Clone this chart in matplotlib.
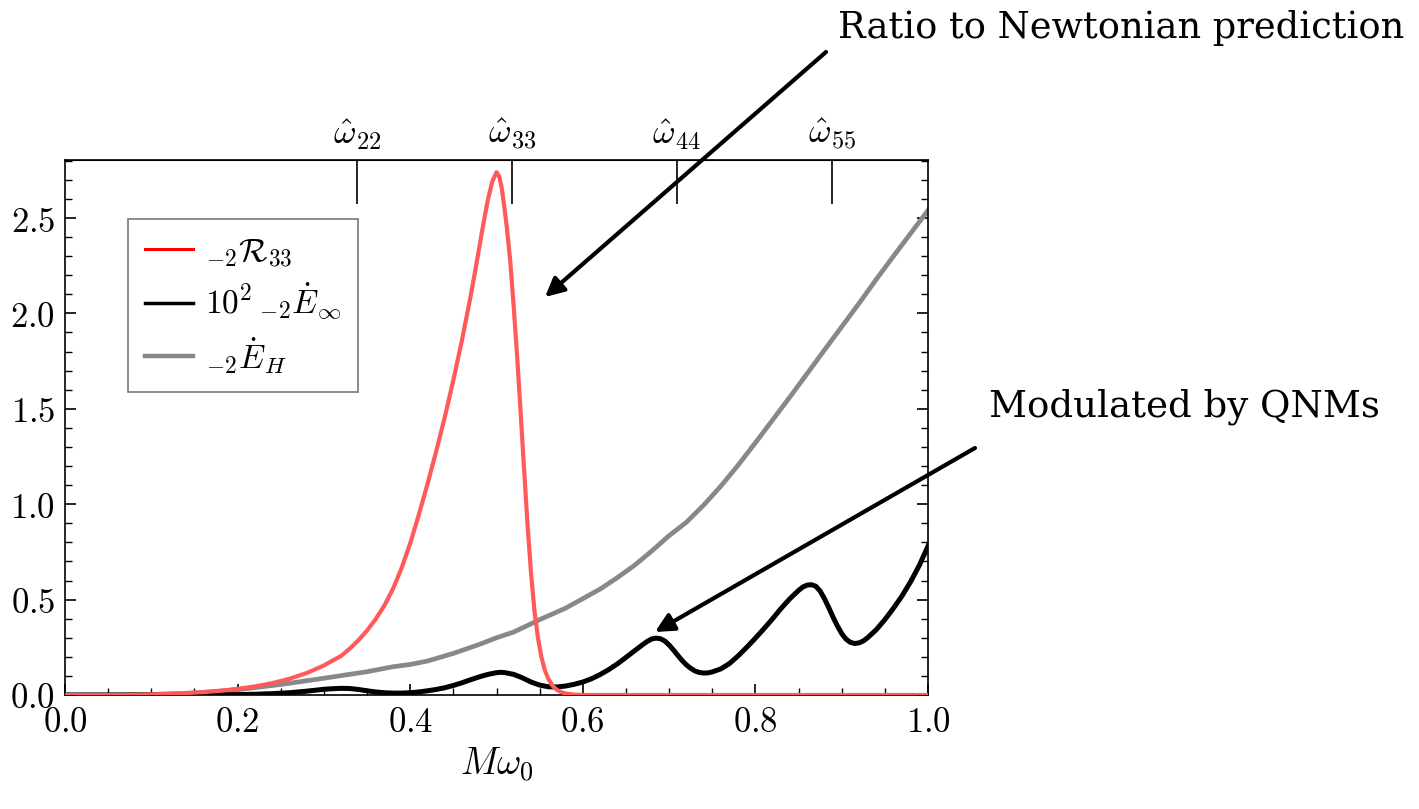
import matplotlib
matplotlib.use("Agg")
import matplotlib.pyplot as plt
from matplotlib.lines import Line2D
from matplotlib.patches import FancyArrowPatch
from matplotlib.ticker import MultipleLocator

plt.rcParams['mathtext.fontset'] = 'cm'
plt.rcParams['font.family'] = ['DejaVu Serif']

# ---- data ----
x_red = [0.0, 0.08, 0.10, 0.12, 0.14, 0.16, 0.18, 0.20, 0.22, 0.24, 0.26, 0.28, 0.30,
         0.32, 0.33, 0.34, 0.35, 0.36, 0.37, 0.38, 0.39, 0.40, 0.41, 0.42, 0.43, 0.44,
         0.45, 0.46, 0.47, 0.475, 0.48, 0.485, 0.49, 0.495, 0.50, 0.503, 0.506,
         0.509, 0.512, 0.516, 0.52, 0.524, 0.528, 0.532, 0.536, 0.54, 0.544, 0.548,
         0.552, 0.556, 0.56, 0.565, 0.57, 0.575, 0.58, 0.59, 0.60, 1.00]
y_red = [0.0, 0.0, 0.003, 0.006, 0.010, 0.015, 0.022, 0.032, 0.045, 0.062, 0.085, 0.115, 0.155,
         0.205, 0.243, 0.287, 0.338, 0.398, 0.468, 0.556, 0.665, 0.795, 0.945, 1.105, 1.275, 1.455,
         1.650, 1.860, 2.090, 2.215, 2.345, 2.475, 2.595, 2.690, 2.740, 2.720, 2.660,
         2.56, 2.45, 2.27, 2.03, 1.77, 1.48, 1.18, 0.89, 0.64, 0.44, 0.30,
         0.20, 0.13, 0.085, 0.048, 0.027, 0.015, 0.008, 0.002, 0.0, 0.0]

x_black = [0.0, 0.10, 0.20, 0.22, 0.24, 0.26, 0.28, 0.29, 0.30, 0.31, 0.32, 0.33, 0.34,
           0.35, 0.36, 0.37, 0.38, 0.39, 0.40, 0.41, 0.42, 0.43, 0.44, 0.45, 0.46, 0.47,
           0.48, 0.49, 0.50, 0.505, 0.51, 0.52, 0.53, 0.54, 0.55, 0.56, 0.57, 0.58, 0.59,
           0.60, 0.61, 0.62, 0.63, 0.64, 0.65, 0.66, 0.67, 0.675, 0.68, 0.685, 0.69,
           0.695, 0.70, 0.705, 0.71, 0.715, 0.72, 0.725, 0.73, 0.735, 0.74, 0.745, 0.75,
           0.76, 0.77, 0.78, 0.79, 0.80, 0.81, 0.82, 0.83, 0.84, 0.85, 0.855, 0.86,
           0.865, 0.87, 0.875, 0.88, 0.885, 0.89, 0.895, 0.90, 0.905, 0.91, 0.915, 0.92,
           0.925, 0.93, 0.94, 0.95, 0.96, 0.97, 0.98, 0.99, 1.00]
y_black = [0.0, 0.0, 0.002, 0.004, 0.007, 0.012, 0.020, 0.025, 0.030, 0.033, 0.035, 0.034, 0.029,
           0.022, 0.016, 0.012, 0.010, 0.010, 0.012, 0.016, 0.022, 0.029, 0.038, 0.050, 0.064, 0.080,
           0.095, 0.108, 0.117, 0.119, 0.117, 0.108, 0.090, 0.068, 0.052, 0.043, 0.042, 0.047, 0.056,
           0.068, 0.085, 0.107, 0.133, 0.163, 0.197, 0.232, 0.266, 0.282, 0.294, 0.298, 0.295,
           0.283, 0.262, 0.236, 0.208, 0.181, 0.158, 0.140, 0.126, 0.118, 0.115, 0.116, 0.121,
           0.137, 0.165, 0.205, 0.250, 0.298, 0.348, 0.400, 0.455, 0.505, 0.548, 0.566, 0.576,
           0.578, 0.570, 0.545, 0.505, 0.458, 0.408, 0.362, 0.322, 0.293, 0.276, 0.270, 0.273,
           0.283, 0.300, 0.342, 0.395, 0.455, 0.520, 0.595, 0.680, 0.780]

x_gray = [0.0, 0.05, 0.10, 0.15, 0.20, 0.25, 0.30, 0.35, 0.38, 0.40, 0.42, 0.45, 0.48,
          0.50, 0.52, 0.55, 0.58, 0.60, 0.62, 0.64, 0.66, 0.68, 0.70, 0.72, 0.74, 0.76,
          0.78, 0.80, 0.82, 0.84, 0.86, 0.88, 0.90, 0.92, 0.94, 0.96, 0.98, 1.00]
y_gray = [0.0, 0.0, 0.003, 0.010, 0.028, 0.055, 0.088, 0.122, 0.148, 0.160, 0.178, 0.218, 0.265,
          0.300, 0.330, 0.395, 0.455, 0.505, 0.555, 0.615, 0.680, 0.755, 0.835, 0.905, 0.995, 1.095,
          1.205, 1.322, 1.442, 1.562, 1.685, 1.808, 1.930, 2.052, 2.178, 2.300, 2.420, 2.540]

qnm_freqs = [0.338, 0.518, 0.709, 0.889]
qnm_labels = [r'$\hat{\omega}_{22}$', r'$\hat{\omega}_{33}$', r'$\hat{\omega}_{44}$', r'$\hat{\omega}_{55}$']
xticks = [0.0, 0.2, 0.4, 0.6, 0.8, 1.0]
yticks = [0.0, 0.5, 1.0, 1.5, 2.0, 2.5]
legend_labels = [r'$_{-2}\mathcal{R}_{33}$', r'$10^2\,_{-2}\dot{E}_{\infty}$', r'$_{-2}\dot{E}_{H}$']

# ---- figure ----
fig = plt.figure(figsize=(14.19, 8.09), dpi=100)
ax = fig.add_axes([65/1419, 1-695/809, (928-65)/1419, (695-160)/809])

ax.plot(x_gray, y_gray, color='#888888', lw=3.4, zorder=2)
ax.plot(x_black, y_black, color='black', lw=3.6, zorder=3)
ax.plot(x_red, y_red, color='#ff5a5a', lw=3.0, zorder=4)

ax.set_xlim(0, 1.0)
ax.set_ylim(0, 2.804)
ax.set_xticks(xticks)
ax.set_xticklabels([f'${v:.1f}$' for v in xticks])
ax.set_yticks(yticks)
ax.set_yticklabels([f'${v:.1f}$' for v in yticks])
ax.xaxis.set_minor_locator(MultipleLocator(0.05))
ax.yaxis.set_minor_locator(MultipleLocator(0.1))
ax.tick_params(axis='both', which='major', direction='in', length=8, width=1.2,
               labelsize=25, top=False, right=True, pad=7)
ax.tick_params(axis='both', which='minor', direction='in', length=5, width=1.0,
               top=False, right=True)
for s in ax.spines.values():
    s.set_linewidth(1.2)

ax.set_xlabel(r'$M\omega_0$', fontsize=27, labelpad=5)

sec = ax.secondary_xaxis('top')
sec.set_xticks(qnm_freqs)
sec.set_xticklabels(qnm_labels)
sec.tick_params(axis='x', direction='in', length=32, width=1.2, labelsize=25, pad=6)
sec.xaxis.set_minor_locator(plt.NullLocator())

handles = [Line2D([], [], color='red', lw=2.2),
           Line2D([], [], color='black', lw=2.5),
           Line2D([], [], color='#888888', lw=3.2)]
leg = ax.legend(handles, legend_labels, loc='upper left',
                bbox_to_anchor=((128-65)/863, (695-219)/535), fontsize=24,
                frameon=True, fancybox=False, edgecolor='#777777', framealpha=1,
                handlelength=1.45, handletextpad=0.35, borderpad=0.5, labelspacing=0.36,
                borderaxespad=0)
leg.get_frame().set_linewidth(1.2)

W, H = 1419, 809
fig.text(838/W, 1-28/H, 'Ratio to Newtonian prediction', fontsize=26.5,
         family='DejaVu Serif', va='center', ha='left')
fig.text(989/W, 1-407/H, 'Modulated by QNMs', fontsize=26.7,
         family='DejaVu Serif', va='center', ha='left')

arrowprops = dict(arrowstyle='-|>', lw=3, color='black', mutation_scale=28,
                  shrinkA=0, shrinkB=0)
fig.add_artist(FancyArrowPatch((826/W, 1-52/H), (545/W, 1-297/H),
                               transform=fig.transFigure, **arrowprops))
fig.add_artist(FancyArrowPatch((975/W, 1-448/H), (655/W, 1-632/H),
                               transform=fig.transFigure, **arrowprops))

fig.savefig('out.png', dpi=100)
